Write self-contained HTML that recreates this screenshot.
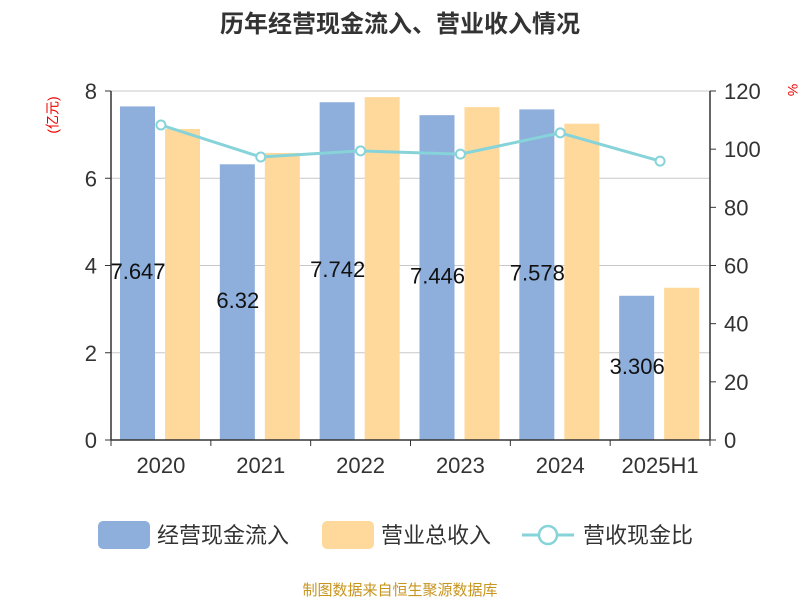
<!DOCTYPE html>
<html><head><meta charset="utf-8"><style>
body{margin:0;background:#fff;font-family:"Liberation Sans","Noto Sans CJK SC",sans-serif}
</style></head><body>
<svg width="800" height="600" viewBox="0 0 800 600" font-family="Liberation Sans, Noto Sans CJK SC, sans-serif">
<text x="400" y="32" text-anchor="middle" font-size="24" font-weight="bold" fill="#333">历年经营现金流入、营业收入情况</text>
<text x="54" y="115" font-size="14" fill="#e00" transform="rotate(-90 54 115)" text-anchor="middle" dominant-baseline="middle">(亿元)</text>
<text x="788" y="90" font-size="14" fill="#e00" transform="rotate(90 788 90)" text-anchor="middle">%</text>
<g id="grid"></g><g id="bars"></g><g id="line"></g><g id="axes"></g>
<g>
<rect x="98" y="521" width="52" height="28" rx="5" fill="#8eaedb"/>
<text x="157" y="543" font-size="22" fill="#333">经营现金流入</text>
<rect x="322" y="521" width="52" height="28" rx="5" fill="#fed99b"/>
<text x="381" y="543" font-size="22" fill="#333">营业总收入</text>
<line x1="522" y1="535" x2="574" y2="535" stroke="#86d3d9" stroke-width="3"/>
<circle cx="548" cy="535" r="9" fill="#fff" stroke="#86d3d9" stroke-width="2.5"/>
<text x="583" y="543" font-size="22" fill="#333">营收现金比</text>
</g>
<text x="400" y="595" text-anchor="middle" font-size="15" fill="#c8951e">制图数据来自恒生聚源数据库</text>
</svg>
<script>
const categories=["2020","2021","2022","2023","2024","2025H1"];
const cashIn=[7.647,6.32,7.742,7.446,7.578,3.306];
const revenue=[7.13,6.58,7.86,7.63,7.25,3.49];
const ratio=[108.3,97.3,99.4,98.3,105.6,95.9];
const leftTicks=[0,2,4,6,8];
const rightTicks=[0,20,40,60,80,100,120];
const NS="http://www.w3.org/2000/svg";
const L=111,R=710,T=91,B=440,bw=(R-L)/categories.length;
const yL=v=>B-(v/8)*(B-T), yR=v=>B-(v/120)*(B-T);
function mk(tag,attrs,parent,text){const e=document.createElementNS(NS,tag);for(const k in attrs)e.setAttribute(k,attrs[k]);if(text!==undefined)e.textContent=text;document.getElementById(parent).appendChild(e);return e;}
leftTicks.forEach(v=>{if(v>0){const g=mk("line",{x1:L,x2:R,y1:yL(v),y2:yL(v),stroke:"#c8c8c8","stroke-width":1},"grid");

}
const t=mk("text",{x:L-14,y:yL(v)+8,"text-anchor":"end","font-size":22,fill:"#333"},"axes",v);


const k=mk("line",{x1:L-6,x2:L,y1:yL(v),y2:yL(v),stroke:"#333"},"axes");

});
rightTicks.forEach(v=>{const t=mk("text",{x:R+14,y:yR(v)+8,"font-size":22,fill:"#333"},"axes",v);


const k=mk("line",{x1:R,x2:R+6,y1:yR(v),y2:yR(v),stroke:"#333"},"axes");

});
categories.forEach((c,i)=>{const x0=L+i*bw;
const b=mk("rect",{x:x0+9,y:yL(cashIn[i]),width:35,height:B-yL(cashIn[i]),fill:"#8eaedb"},"bars");


const o=mk("rect",{x:x0+54,y:yL(revenue[i]),width:35,height:B-yL(revenue[i]),fill:"#fed99b"},"bars");


const lb=mk("text",{x:x0+27,y:(B+yL(cashIn[i]))/2+6,"text-anchor":"middle","font-size":22,fill:"#111"},"bars",cashIn[i]);


const xt=mk("text",{x:x0+bw/2,y:473,"text-anchor":"middle","font-size":22,fill:"#333"},"axes",c);


const tk=mk("line",{x1:x0,x2:x0,y1:B,y2:B+6,stroke:"#333"},"axes");

});
const pts=ratio.map((v,i)=>(L+i*bw+bw/2)+","+yR(v)).join(" ");
const pl=mk("polyline",{points:pts,fill:"none",stroke:"#86d3d9","stroke-width":3},"line");


ratio.forEach((v,i)=>{const p=mk("circle",{cx:L+i*bw+bw/2,cy:yR(v),r:4.5,fill:"#fff",stroke:"#86d3d9","stroke-width":2},"line");

});
[[L,T,L,B],[R,T,R,B],[L,B,R,B]].forEach((a,i)=>{const l=mk("line",{x1:a[0],y1:a[1],x2:a[2],y2:a[3],stroke:"#333","stroke-width":1.5},"axes");

});
const xe=mk("line",{x1:R,x2:R,y1:B,y2:B+6,stroke:"#333"},"axes");


</script>
</body></html>
